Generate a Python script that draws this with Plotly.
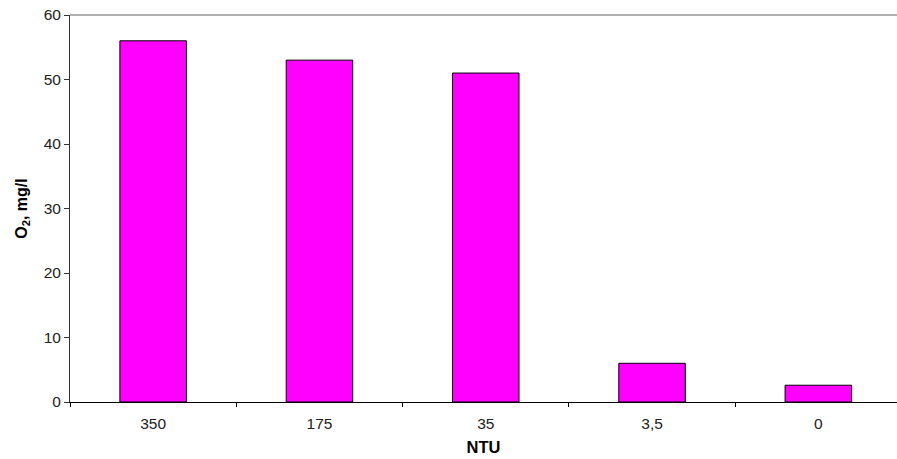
import plotly.graph_objects as go

categories = ["350", "175", "35", "3,5", "0"]
values = [56, 53, 51, 6, 2.6]
y_ticks = [0, 10, 20, 30, 40, 50, 60]

fig = go.Figure()
fig.add_trace(go.Bar(
    x=categories, y=values,
    marker=dict(color="#FF00FF", line=dict(color="#000000", width=1)),
    width=0.4,
))

W, H = 897, 459
left, top, bottom = 70, 15, 57
plot_w = W - left
cat_w = 166.3
x_end = -0.5 + plot_w / cat_w

fig.update_layout(
    width=W, height=H,
    margin=dict(l=left, r=0, t=top, b=bottom, autoexpand=False),
    plot_bgcolor="white", paper_bgcolor="white",
    showlegend=False,
    font=dict(family="Liberation Sans, Arial, sans-serif", size=15, color="#222222"),
    xaxis=dict(
        type="category", range=[-0.5, x_end],
        showline=True, linecolor="#000000", linewidth=1,
        ticks="outside", ticklen=4, tickcolor="#000000", tickson="boundaries",
        showgrid=False, zeroline=False, automargin=False,
        tickfont=dict(size=15.5), ticklabelstandoff=7,
        title=dict(text="<b>NTU</b>", font=dict(size=16.5, color="#000000"), standoff=10),
    ),
    yaxis=dict(
        range=[0, 60], tickvals=y_ticks,
        showline=True, linecolor="#333333", linewidth=1,
        ticks="outside", ticklen=5, tickcolor="#333333",
        showgrid=False, zeroline=False, automargin=False,
        tickfont=dict(size=15.5),
        title=dict(text="<b>O<sub>2</sub>, mg/l</b>", font=dict(size=16, color="#000000"), standoff=12),
    ),
)
fig.add_shape(type="line", xref="paper", yref="paper", x0=0, x1=1, y0=1, y1=1,
              line=dict(color="#999999", width=1.5))

fig.write_html(
    "out.html",
    config={"displayModeBar": False},
    post_script="document.body.style.margin='0';document.body.style.overflow='hidden';",
)
